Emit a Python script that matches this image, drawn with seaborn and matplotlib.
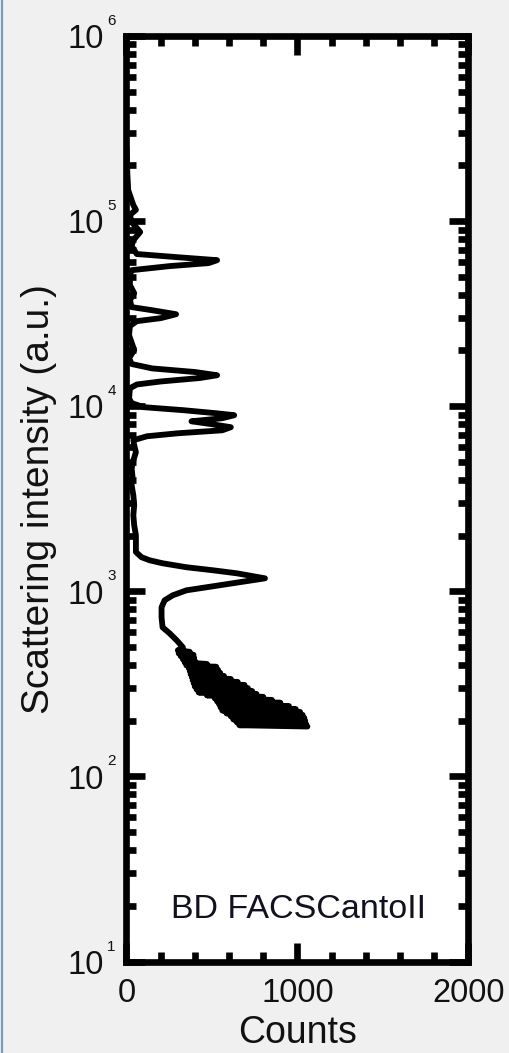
import numpy as np
import pandas as pd
import matplotlib
matplotlib.use("Agg")
import matplotlib.pyplot as plt
import matplotlib.transforms as mtransforms
import seaborn as sns
from matplotlib.ticker import LogLocator, FixedLocator, MultipleLocator, NullFormatter
from matplotlib.lines import Line2D

# ---- data: scattering intensity (a.u.) vs counts ----
intensity = [
    250000, 180000, 147000, 122000, 115000, 108000, 98800, 87300, 78900, 73300,
    66400, 63800, 61500, 59300, 57100, 54300, 51000, 45100, 40800, 37400,
    34300, 33000, 31400, 29900, 28800, 27100, 24200, 20100, 18200,
    16900, 16000, 15300, 14700, 14200, 13600, 13100, 12500, 11000,
    10400, 9880, 9520, 9170, 8940, 8610, 8290, 7990, 7700, 7410, 7140, 6880, 6550,
    6150, 5640, 5100, 4620, 4180, 3740, 3300, 2920, 2580, 2270, 2010, 1770, 1630,
    1528, 1471, 1417, 1349, 1299, 1251, 1175, 1105, 1052, 1012, 951, 894, 820,
    723, 639, 593, 544, 498,
    480, 471, 462, 454, 446, 437, 429, 421, 413, 405, 398, 391, 384, 377, 370,
    363, 356, 349, 343, 336, 330, 324, 318, 312, 306, 300, 295, 289,
    284, 279, 274, 269, 264, 259, 254, 250, 245, 240, 236, 231, 227, 223,
    219, 215, 211, 207, 203, 200, 196, 192, 189, 186,
]
counts = [
    0, 5, 10, 40, 55, 20, 30, 80, 40, 30,
    60, 300, 530, 480, 250, 30, 20, 20, 45, 20,
    30, 150, 290, 200, 60, 20, 15, 45, 15,
    30, 150, 400, 530, 430, 200, 60, 20, 15,
    30, 100, 330, 520, 630, 560, 380, 500, 610, 560, 300, 120, 40,
    45, 55, 40, 30, 35, 30, 40, 45, 40, 45, 55, 55, 55,
    88, 135, 211, 350, 505, 645, 810, 620, 470, 350, 270, 223, 205,
    205, 211, 252, 293, 330,
    300, 370, 305, 392, 317, 396, 330, 400, 340, 470, 350, 525, 364, 535, 370,
    548, 375, 570, 382, 610, 387, 650, 393, 690, 399, 710, 410, 735,
    422, 760, 470, 800, 516, 850, 530, 900, 542, 950, 550, 990, 560, 1015,
    585, 1030, 610, 1040, 625, 1045, 645, 1050, 660, 1058,
]

x_ticks_major = [0, 1000, 2000]
x_tick_labels = ["0", "1000", "2000"]
y_decades = [1, 2, 3, 4, 5, 6]
y_limits = (1e1, 1e6)
x_limits = (0, 2000)
instrument = "BD FACSCantoII"

df = pd.DataFrame({"Counts": counts, "Intensity": intensity})

sns.set_theme(style="white")
plt.rcParams["font.family"] = ["Liberation Sans", "DejaVu Sans"]

fig = plt.figure(figsize=(5.10, 10.53), dpi=100, facecolor="#f0f0f0")
ax = fig.add_axes([126.5 / 510, 1 - 961.5 / 1053, (468.5 - 126.5) / 510, (961.5 - 36) / 1053])
ax.set_facecolor("white")

sns.lineplot(data=df, x="Counts", y="Intensity", sort=False, estimator=None,
             color="black", linewidth=4.2, ax=ax, legend=False)

ax.set_yscale("log")
ax.set_ylim(*y_limits)
ax.set_xlim(*x_limits)

ax.xaxis.set_major_locator(FixedLocator(x_ticks_major))
ax.set_xticklabels(x_tick_labels)
ax.xaxis.set_minor_locator(MultipleLocator(200))
ax.yaxis.set_major_locator(FixedLocator([10.0 ** d for d in y_decades]))
ax.yaxis.set_major_formatter(NullFormatter())
ax.yaxis.set_minor_locator(LogLocator(base=10, subs=np.arange(2, 10), numticks=20))
ax.yaxis.set_minor_formatter(NullFormatter())

for s in ax.spines.values():
    s.set_linewidth(4.8)
    s.set_color("black")
    s.set_visible(True)

ax.tick_params(which="both", direction="in", top=True, right=True, bottom=True, left=True,
               color="black", width=4.8)
ax.tick_params(which="major", length=14)
ax.tick_params(which="minor", length=7.5)
ax.tick_params(axis="x", which="major", labelsize=23.5, pad=12, labelcolor="#111111")

# y tick labels drawn as "10" with a small raised exponent (MATLAB style)
base = mtransforms.blended_transform_factory(ax.transAxes, ax.transData)
t_main = mtransforms.offset_copy(base, fig=fig, x=-16.5, y=-8.8, units="points")
t_exp = mtransforms.offset_copy(base, fig=fig, x=-13.8, y=7.9, units="points")
for d in y_decades:
    ax.text(0, 10.0 ** d, "10", transform=t_main, ha="right", va="baseline",
            fontsize=23.5, color="#111111", clip_on=False)
    ax.text(0, 10.0 ** d, str(d), transform=t_exp, ha="left", va="baseline",
            fontsize=11, color="#111111", clip_on=False)

ax.set_xlabel("Counts", fontsize=27, labelpad=4, color="#111111")
ax.set_ylabel("Scattering intensity (a.u.)", fontsize=28, color="#111111")
ax.yaxis.set_label_coords(-0.203, 0.5)

ax.text(0.502, 0.0465, instrument, transform=ax.transAxes, ha="center", va="baseline",
        fontsize=24.5, color="#111122")

# window frame line on the left edge
fig.add_artist(Line2D([1.8 / 510, 1.8 / 510], [0, 1], transform=fig.transFigure,
                      color="#7f9db9", linewidth=1.6))

fig.savefig("out.png", dpi=100, facecolor=fig.get_facecolor())
